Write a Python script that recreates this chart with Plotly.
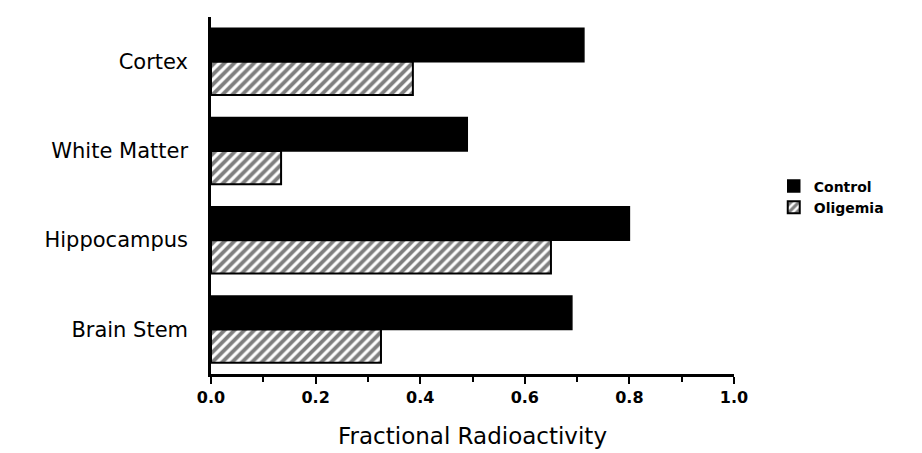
import plotly.graph_objects as go

regions = ["Cortex", "White Matter", "Hippocampus", "Brain Stem"]
control = [0.713, 0.49, 0.80, 0.69]
oligemia = [0.386, 0.134, 0.65, 0.325]
x_ticks = [0.0, 0.2, 0.4, 0.6, 0.8, 1.0]
x_tick_labels = ["0.0", "0.2", "0.4", "0.6", "0.8", "1.0"]

FONT = "DejaVu Sans"

fig = go.Figure()
fig.add_trace(go.Bar(
    y=regions, x=control, name="Control", orientation="h",
    marker=dict(color="black", line=dict(color="black", width=1.5)),
))
fig.add_trace(go.Bar(
    y=regions, x=oligemia, name="Oligemia", orientation="h",
    marker=dict(color="white", line=dict(color="black", width=2),
                pattern=dict(shape="/", fgcolor="black", bgcolor="white",
                             size=7, solidity=0.55)),
))

fig.update_layout(
    width=922, height=453,
    margin=dict(l=203, r=196, t=9, b=87),
    paper_bgcolor="white", plot_bgcolor="white",
    barmode="group", bargap=0.25, bargroupgap=0,
    font=dict(family=FONT, color="black"),
    showlegend=True,
    legend=dict(x=1.076, y=0.57, xanchor="left", yanchor="top",
                font=dict(size=14, family=FONT, color="black", weight="bold"),
                tracegroupgap=0, itemwidth=30),
    xaxis=dict(range=[0, 1.0], tickvals=x_ticks, ticktext=x_tick_labels,
               showline=True, linecolor="black", linewidth=2.5,
               ticks="outside", ticklen=7, tickwidth=2, tickcolor="black",
               minor=dict(ticks="outside", ticklen=5, tickwidth=2,
                          tickcolor="black", dtick=0.1),
               showgrid=False, zeroline=False,
               tickfont=dict(size=16, family=FONT, color="black", weight="bold"),
               title=dict(text="Fractional Radioactivity", standoff=22,
                          font=dict(size=23, family=FONT, color="black"))),
    yaxis=dict(autorange="reversed", showline=True, linecolor="black",
               linewidth=2.5, ticks="", showgrid=False, zeroline=False,
               ticklabelstandoff=16,
               tickfont=dict(size=21, family=FONT, color="black")),
)

fig.write_html("out.html")
